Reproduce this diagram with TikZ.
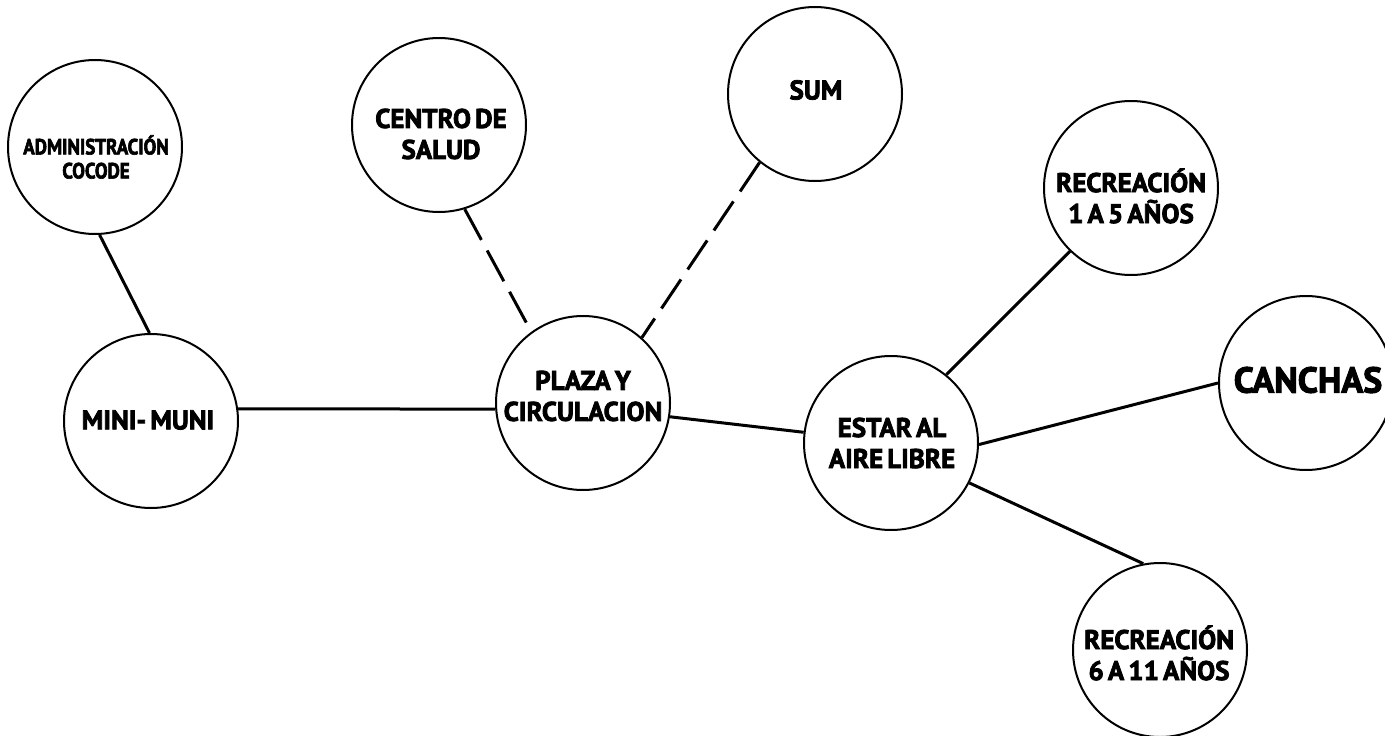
\documentclass[tikz,border=0pt]{standalone}
\usepackage{fontspec}
\newfontfamily\labfont[FakeBold=2.8,WordSpace=0.6]{PT Sans Bold}
\newfontfamily\labfontnarrow[FakeStretch=0.86,FakeBold=2.8,WordSpace=0.6]{PT Sans Bold}
\tikzset{
  zone/.style={circle, draw, line width=2pt, minimum size=174pt, inner sep=0pt},
  lab/.style={font=\labfont\fontsize{27}{31}\selectfont, align=center, inner sep=0pt},
  link/.style={line width=3pt},
  dlink/.style={line width=3pt, dash pattern=on 35pt off 12pt},
}
\begin{document}
\begin{tikzpicture}[x=1pt,y=-1pt]
\useasboundingbox (0,0) rectangle (1385,736);
% circles
\node[zone] (admin)   at (95,147)   {};
\node[zone] (centro)  at (439,125)  {};
\node[zone] (sum)     at (815,94)   {};
\node[zone] (rec1)    at (1131,188) {};
\node[zone] (canchas) at (1306,383) {};
\node[zone] (mini)    at (151,421)  {};
\node[zone] (plaza)   at (583,403)  {};
\node[zone] (estar)   at (891,443)  {};
\node[zone] (rec2)    at (1160,650) {};
% labels
\node[lab, font=\labfontnarrow\fontsize{22}{24}\selectfont] (tadmin) at (96,157) {ADMINISTRACIÓN\\COCODE};
\node[lab] (tcentro) at (441,134) {CENTRO DE\\SALUD};
\node[lab] (tsum) at (816,90) {SUM};
\node[lab] (trec1) at (1131,196) {RECREACIÓN\\1 A 5 AÑOS};
\node[lab, font=\labfont\fontsize{36}{40}\selectfont] (tcanchas) at (1308,380) {CANCHAS};
\node[lab] (tplaza) at (583,396) {PLAZA Y\\CIRCULACION};
\node[lab] (tmini) at (148,420) {MINI- MUNI};
\node[lab] (testar) at (892,443) {ESTAR AL\\AIRE LIBRE};
\node[lab] (trec2) at (1159,653) {RECREACIÓN\\6 A 11 AÑOS};
% connectors
\draw[link] (admin.-87) -- (mini.91);
\draw[link] (mini.8) -- (plaza.184);
\draw[dlink] (centro.-73) -- (plaza.126);
\draw[dlink] (sum.-129) -- (plaza.48);
\draw[link] (plaza.-9) -- (estar.173);
\draw[link] (estar.51) -- (rec1.226);
\draw[link] (estar.-1) -- (canchas.180);
\draw[link] (estar.-27) -- (rec2.101);
\end{tikzpicture}
\end{document}
